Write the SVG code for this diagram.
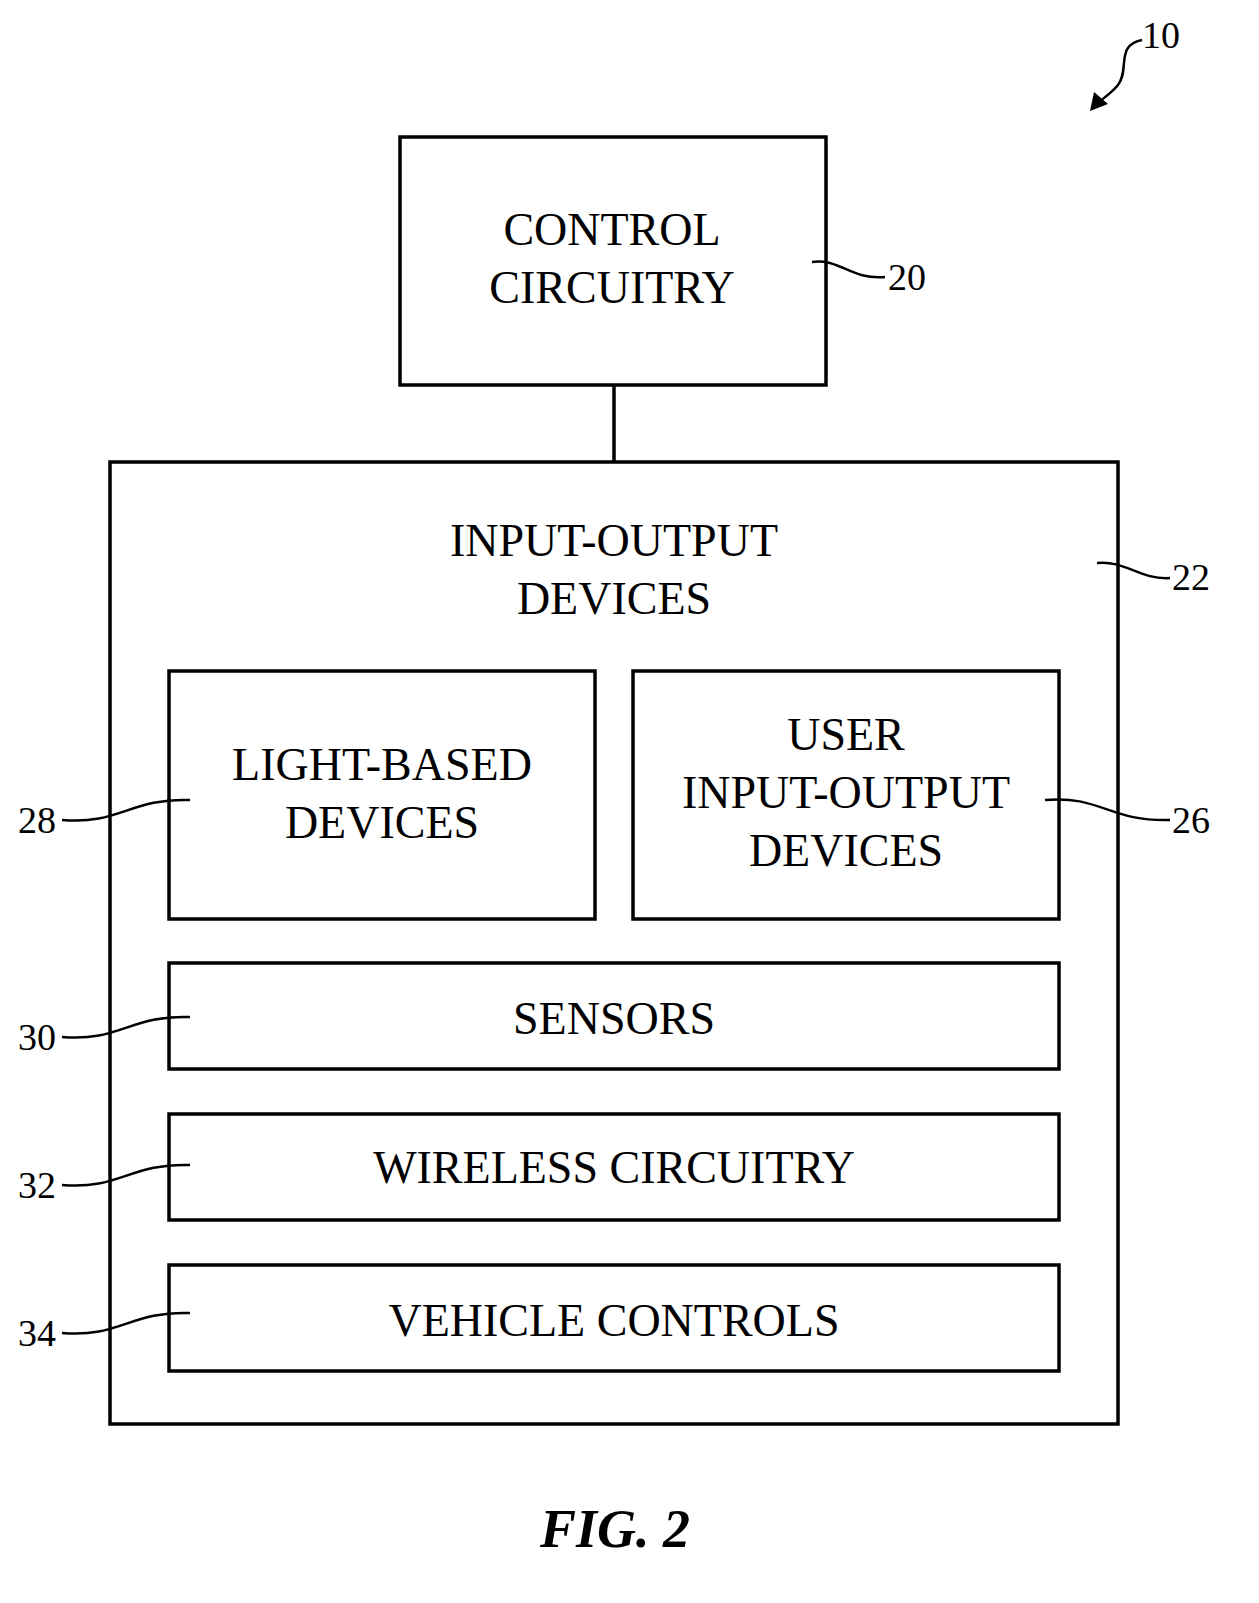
<svg xmlns="http://www.w3.org/2000/svg" width="1259" height="1603" viewBox="0 0 1259 1603">
<style>
.b{fill:none;stroke:#000;stroke-width:3.5}
.l{fill:none;stroke:#000;stroke-width:2.5}
text{font-family:"Liberation Serif",serif;font-size:46px;fill:#000}
.t{text-anchor:middle}
.n{font-size:38px}
</style>
<defs><marker id="a" markerWidth="10" markerHeight="10" refX="8" refY="5" orient="auto" markerUnits="userSpaceOnUse"><path d="M0,0L10,5L0,10z" fill="#000" transform="scale(2) translate(-4,-2.5)"/></marker></defs>
<rect width="1259" height="1603" fill="#fff"/>
<g id="connectors">
<line class="b" x1="614" y1="385" x2="614" y2="462"/>
<path class="l" d="M812,262 C840,258 850,280 885,277"/>
<path class="l" d="M1097,563 C1125,560 1140,580 1170,578"/>
<path class="l" d="M1045,800 C1100,795 1110,822 1170,820"/>
<path class="l" d="M62,820 C120,825 130,798 190,800"/>
<path class="l" d="M62,1037 C120,1042 130,1015 190,1017"/>
<path class="l" d="M62,1185 C120,1190 130,1163 190,1165"/>
<path class="l" d="M62,1333 C120,1338 130,1311 190,1313"/>
<path class="l" d="M1142,40 C1115,45 1130,70 1118,85 C1110,95 1100,100 1092,108"/>
<path d="M1090,111 L1094,92 L1108,104 Z" fill="#000"/>
</g>
<g id="n10"><text x="1142" y="48" class="n">10</text></g>
<g id="n20"><rect class="b" x="400" y="137" width="426" height="248"/><text class="t" x="612" y="245">CONTROL</text><text class="t" x="612" y="303">CIRCUITRY</text><text x="888" y="290" class="n">20</text></g>
<g id="n22"><rect class="b" x="110" y="462" width="1008" height="962"/><text class="t" x="614" y="556">INPUT-OUTPUT</text><text class="t" x="614" y="614">DEVICES</text><text x="1172" y="590" class="n">22</text></g>
<g id="n28"><rect class="b" x="169" y="671" width="426" height="248"/><text class="t" x="382" y="780">LIGHT-BASED</text><text class="t" x="382" y="838">DEVICES</text><text x="18" y="833" class="n">28</text></g>
<g id="n26"><rect class="b" x="633" y="671" width="426" height="248"/><text class="t" x="846" y="750">USER</text><text class="t" x="846" y="808">INPUT-OUTPUT</text><text class="t" x="846" y="866">DEVICES</text><text x="1172" y="833" class="n">26</text></g>
<g id="n30"><rect class="b" x="169" y="963" width="890" height="106"/><text class="t" x="614" y="1034">SENSORS</text><text x="18" y="1050" class="n">30</text></g>
<g id="n32"><rect class="b" x="169" y="1114" width="890" height="106"/><text class="t" x="614" y="1183">WIRELESS CIRCUITRY</text><text x="18" y="1198" class="n">32</text></g>
<g id="n34"><rect class="b" x="169" y="1265" width="890" height="106"/><text class="t" x="614" y="1336">VEHICLE CONTROLS</text><text x="18" y="1346" class="n">34</text></g>
<g id="fig"><text class="t" x="615" y="1547" style="font-size:54px;font-weight:bold;font-style:italic">FIG. 2</text></g>
</svg>
